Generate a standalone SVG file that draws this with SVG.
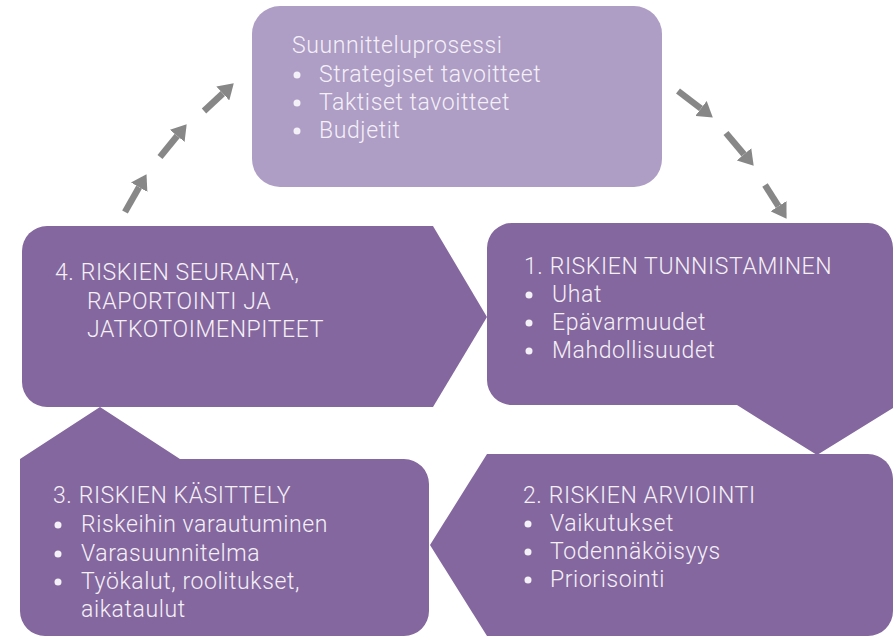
<svg xmlns="http://www.w3.org/2000/svg" width="893" height="638" viewBox="0 0 893 638">
<style>
.dark{fill:#84679e}
.light{fill:#ae9dc5}
text{font-family:Roboto,"Liberation Sans",sans-serif;font-weight:300;font-size:23px;letter-spacing:0.6px;fill:#f4f0f7}
.b{fill:#f4f0f7}
.arr{stroke:#878787;stroke-width:6.5;fill:none}
</style>
<defs>
<marker id="ah" markerUnits="userSpaceOnUse" markerWidth="15" markerHeight="19" viewBox="0 0 15 19" refX="0" refY="9.5" orient="auto">
<path d="M0,0 L15,9.5 L0,19 Z" fill="#878787"/>
</marker>
</defs>
<rect width="893" height="638" fill="#ffffff"/>

<g id="plan">
<rect class="light" x="252" y="6" width="410" height="181" rx="28"/>
<text x="292" y="53">Suunnitteluprosessi</text>
<circle class="b" cx="297" cy="75" r="3.5"/><text x="319" y="82">Strategiset tavoitteet</text>
<circle class="b" cx="297" cy="103" r="3.5"/><text x="319" y="110">Taktiset tavoitteet</text>
<circle class="b" cx="297" cy="131" r="3.5"/><text x="319" y="138">Budjetit</text>
</g>

<g id="step4">
<path class="dark" d="M47,226 L433,226 L487,317 L433,407 L47,407 A25,25 0 0 1 22,382 L22,251 A25,25 0 0 1 47,226 Z"/>
<text x="55" y="280">4. RISKIEN SEURANTA,</text>
<text x="87" y="309">RAPORTOINTI JA</text>
<text x="87" y="337">JATKOTOIMENPITEET</text>
</g>

<g id="step1">
<path class="dark" d="M512,223 L868,223 A25,25 0 0 1 893,248 L893,408 L817,455 L737,405 L512,405 A25,25 0 0 1 487,380 L487,248 A25,25 0 0 1 512,223 Z"/>
<text x="524" y="274">1. RISKIEN TUNNISTAMINEN</text>
<circle class="b" cx="529" cy="295" r="3.5"/><text x="552" y="302">Uhat</text>
<circle class="b" cx="529" cy="323" r="3.5"/><text x="552" y="330">Epävarmuudet</text>
<circle class="b" cx="529" cy="351" r="3.5"/><text x="552" y="358">Mahdollisuudet</text>
</g>

<g id="step2">
<path class="dark" d="M487,454 L868,454 A25,25 0 0 1 893,479 L893,611 A25,25 0 0 1 868,636 L487,636 L430,545 Z"/>
<text x="523" y="503">2. RISKIEN ARVIOINTI</text>
<circle class="b" cx="528" cy="524" r="3.5"/><text x="550" y="531">Vaikutukset</text>
<circle class="b" cx="528" cy="552" r="3.5"/><text x="550" y="559">Todennäköisyys</text>
<circle class="b" cx="528" cy="580" r="3.5"/><text x="550" y="587">Priorisointi</text>
</g>

<g id="step3">
<path class="dark" d="M20,459 L100,407 L180,459 L404,459 A25,25 0 0 1 429,484 L429,611 A25,25 0 0 1 404,636 L45,636 A25,25 0 0 1 20,611 Z"/>
<text x="53" y="503">3. RISKIEN KÄSITTELY</text>
<circle class="b" cx="58" cy="525" r="3.5"/><text x="81" y="532">Riskeihin varautuminen</text>
<circle class="b" cx="58" cy="554" r="3.5"/><text x="81" y="561">Varasuunnitelma</text>
<circle class="b" cx="58" cy="582" r="3.5"/><text x="81" y="589">Työkalut, roolitukset,</text>
<text x="81" y="617">aikataulut</text>
</g>

<g id="connectors">
<line class="arr" x1="125" y1="212" x2="139.1" y2="187.2" marker-end="url(#ah)"/>
<line class="arr" x1="160" y1="157" x2="177.2" y2="135.9" marker-end="url(#ah)"/>
<line class="arr" x1="204" y1="111" x2="222.8" y2="93.5" marker-end="url(#ah)"/>
<line class="arr" x1="678" y1="91" x2="700.9" y2="108.5" marker-end="url(#ah)"/>
<line class="arr" x1="726" y1="133" x2="744" y2="154.3" marker-end="url(#ah)"/>
<line class="arr" x1="765" y1="185" x2="778.5" y2="206.2" marker-end="url(#ah)"/>
</g>
</svg>
